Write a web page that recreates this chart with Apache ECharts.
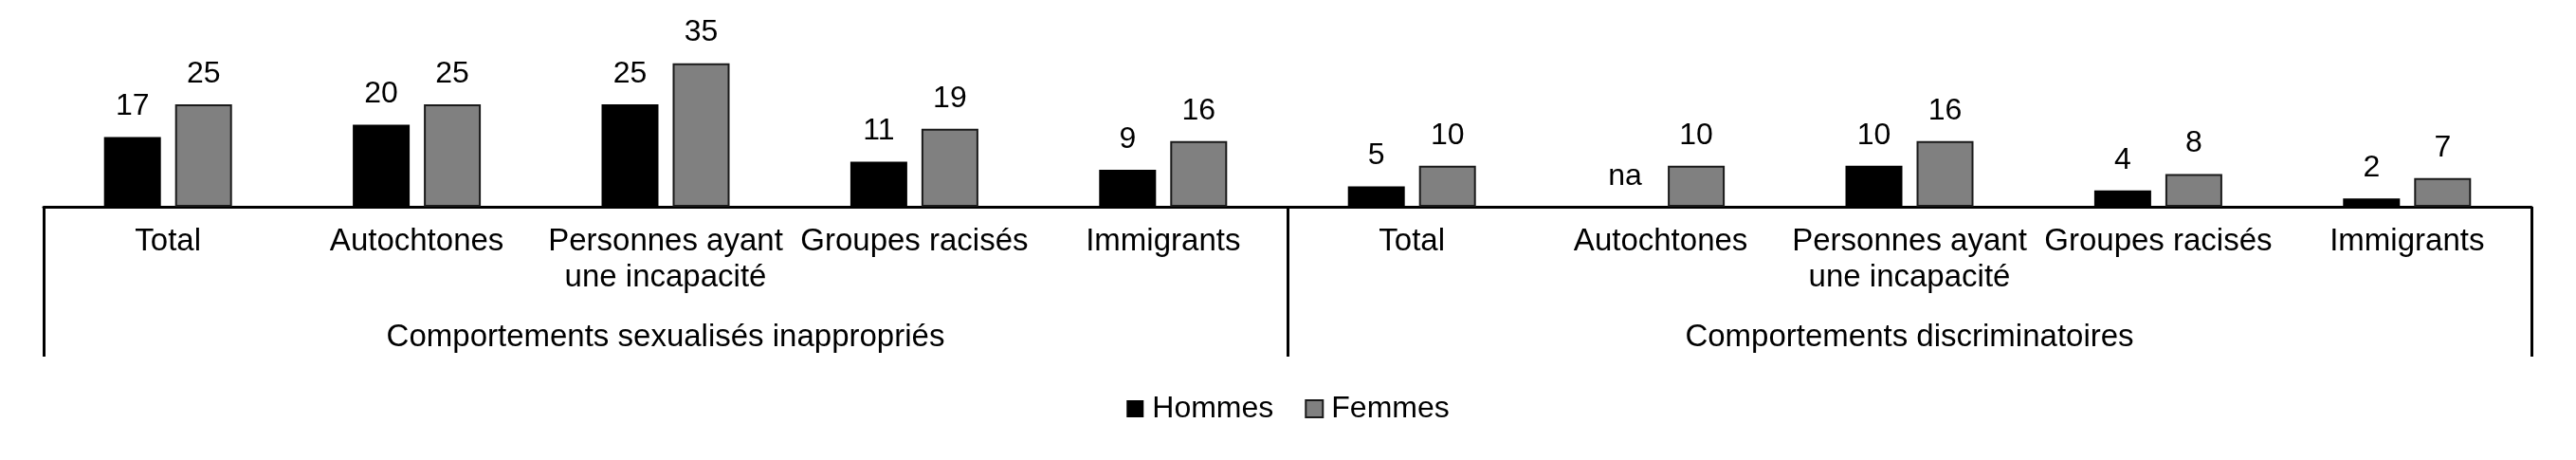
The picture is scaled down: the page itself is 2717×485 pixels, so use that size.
<!DOCTYPE html>
<html>
<head>
<meta charset="utf-8">
<script src="https://cdn.jsdelivr.net/npm/echarts@6/dist/echarts.min.js"></script>
<style>
html,body{margin:0;padding:0;background:#fff;}
#chart{width:2717px;height:485px;}
</style>
</head>
<body>
<div id="chart"></div>
<script>
// ---- data ----
const categories = ['Total', 'Autochtones', 'Personnes ayant\nune incapacité', 'Groupes racisés', 'Immigrants',
                    'Total', 'Autochtones', 'Personnes ayant\nune incapacité', 'Groupes racisés', 'Immigrants'];
const groups = ['Comportements sexualisés inappropriés', 'Comportements discriminatoires'];
const seriesNames = ['Hommes', 'Femmes'];
const hommes = [17, 20, 25, 11, 9, 5, null, 10, 4, 2];
const femmes = [25, 25, 35, 19, 16, 10, 10, 16, 8, 7];
const missingLabel = 'na';

const FONT = '"Liberation Sans", Arial, sans-serif';
const chart = echarts.init(document.getElementById('chart'), null, {renderer: 'canvas'});

const labelStyle = {
  show: true, position: 'top', distance: 16,
  fontFamily: FONT, fontSize: 32, color: '#000'
};

const hommesData = hommes.map(v => v === null
  ? {value: 0, label: {formatter: missingLabel}}
  : v);

chart.setOption({
  animation: false,
  backgroundColor: '#fff',
  textStyle: {fontFamily: FONT},
  grid: {left: 46, right: 47, top: 45, bottom: 267, containLabel: false},
  legend: {
    data: seriesNames,
    top: 410, left: 'center',
    icon: 'rect', itemWidth: 18, itemHeight: 18, itemGap: 33,
    textStyle: {fontFamily: FONT, fontSize: 32, color: '#000', padding: [0, 0, 0, 4]}
  },
  xAxis: [
    {
      type: 'category', data: categories, position: 'bottom',
      axisLine: {show: true, lineStyle: {color: '#000', width: 3}},
      axisTick: {show: false},
      axisLabel: {interval: 0, margin: 18, fontFamily: FONT, fontSize: 33, color: '#000', lineHeight: 38}
    },
    {
      type: 'category', data: groups, position: 'bottom', gridIndex: 0,
      axisLine: {show: false},
      axisTick: {show: true, length: 158, lineStyle: {color: '#000', width: 3}},
      axisLabel: {interval: 0, margin: 121, fontFamily: FONT, fontSize: 33, color: '#000'}
    }
  ],
  yAxis: {type: 'value', min: 0, max: 40, show: false, splitLine: {show: false}},
  series: [
    {
      name: seriesNames[0], type: 'bar', xAxisIndex: 0, data: hommesData,
      barWidth: 60, barGap: '25%',
      itemStyle: {color: '#000'},
      label: labelStyle
    },
    {
      name: seriesNames[1], type: 'bar', xAxisIndex: 0, data: femmes,
      barWidth: 60, barGap: '25%',
      itemStyle: {color: '#808080', borderColor: '#1a1a1a', borderWidth: 2},
      label: labelStyle
    }
  ]
});
</script>
</body>
</html>
